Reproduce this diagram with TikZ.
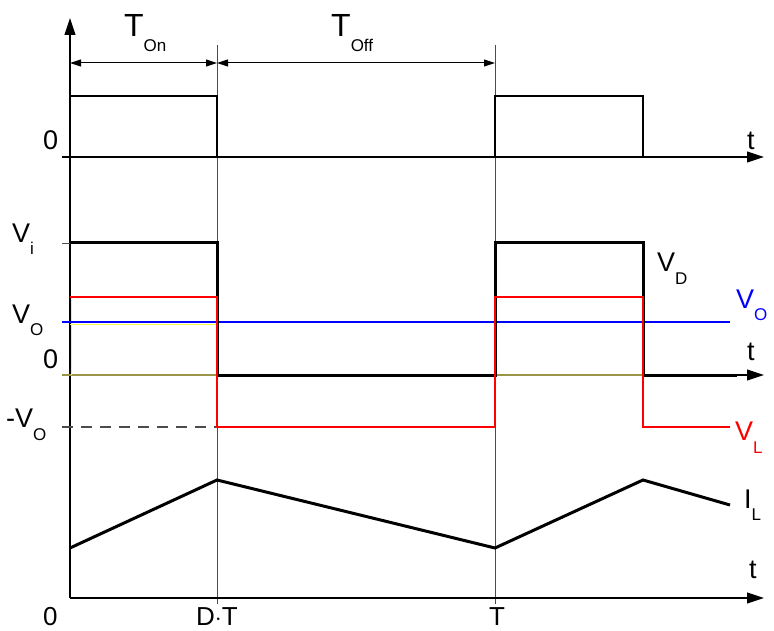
\documentclass[tikz,border=0pt]{standalone}
\usepackage{fontspec}
\setmainfont{Liberation Sans}
\usetikzlibrary{arrows.meta,positioning}

\newcommand{\idx}[2][13pt]{\raisebox{-#1}{\fontsize{17}{18}\selectfont #2}}

\begin{document}
\begin{tikzpicture}[x=1pt,y=-1pt]
 \tikzset{
  axis/.style={line width=1.1pt,-{Triangle[length=17pt,width=11pt]}},
  guide/.style={line width=0.9pt,black!70},
  wave/.style={line width=3pt,line join=miter},
  dim/.style={line width=1pt,{Triangle[length=11pt,width=7pt]}-{Triangle[length=11pt,width=7pt]}},
  lbl/.style={inner sep=0pt,anchor=base west,font=\fontsize{27}{30}\selectfont}
 }
 \useasboundingbox (0,0) rectangle (774,631);
 % axes and guides
 \coordinate (o) at (70,598);
 \coordinate (ytop) at (70,18);
 \coordinate (dt) at (217,63);
 \coordinate (tt) at (495,63);
 \coordinate (on) at (70,63);
 \draw[axis] (o) -- (ytop);
 \draw[guide] (217,45) -- (217,604);
 \draw[guide] (495,45) -- (495,604);
 \draw[axis] (62,157) -- (764,157);
 \draw[axis] (62,375) -- (764,375);
 \draw[line width=1.1pt,yellow!55!black] (62,375) -- (735,375);
 \draw[axis] (o) -- (764,598);
 \draw[guide] (62,243) -- (70,243);
 \draw[line width=1.4pt,black!70,dash pattern=on 11pt off 8pt] (62,427) -- (217,427);
 \draw[dim] (on) -- (dt);
 \draw[dim] (dt) -- (tt);
 % gate signal
 \draw[wave,line width=2.5pt] (70,96) -- (217,96) -- (217,157) -- (495,157) -- (495,96)
   -- (643,96) -- (643,157) -- (750,157);
 % voltages
 \draw[line width=0.8pt,yellow!70] (71.5,297) -- (71.5,375);
 \draw[line width=0.8pt,yellow!70] (70,324.5) -- (217,324.5);
 \draw[line width=2.4pt,blue] (62,322) -- (730,322);
 \draw[wave] (70,243) -- (217,243) -- (217,375) -- (495,375) -- (495,243)
   -- (643,243) -- (643,375) -- (737,375);
 \draw[wave,red,line width=2.6pt] (70,297) -- (217,297) -- (217,427) -- (495,427) -- (495,297)
   -- (643,297) -- (643,427) -- (730,427);
 % inductor current
 \draw[wave] (70,548) -- (217,480) -- (495,548) -- (643,480) -- (730,505);
 % labels
 \node[lbl,font=\fontsize{32}{34}\selectfont] (ton) at (124,37) {T\idx[15pt]{On}};
 \node[lbl,font=\fontsize{32}{34}\selectfont] (toff) at (331,37) {T\idx[15pt]{Off}};
 \node[lbl] (zero1) at (43,150) {0};
 \node[lbl] (t1) at (747,150) {t};
 \node[lbl] (vi) at (12,243) {V\idx[12pt]{i}};
 \node[lbl] (vo) at (12,323) {V\idx{O}};
 \node[lbl] (zero2) at (43,368) {0};
 \node[lbl] (mvo) at (6,427) {-V\idx{O}};
 \node[lbl] (vd) at (657,272) {V\idx{D}};
 \node[lbl,blue] (vol) at (736,308) {V\idx{O}};
 \node[lbl] (t2) at (747,360) {t};
 \node[lbl,red] (vl) at (735,440) {V\idx{L}};
 \node[lbl] (il) at (744,508) {I\idx[12pt]{L}};
 \node[lbl] (t3) at (749,578) {t};
 \node[lbl,font=\fontsize{26}{28}\selectfont] (zero3) at (43,625) {0};
 \node[lbl,anchor=base,font=\fontsize{26}{28}\selectfont] (dtl) at (217,625) {D$\cdot$T};
 \node[lbl,anchor=base,font=\fontsize{26}{28}\selectfont] (tl) at (497,625) {T};
\end{tikzpicture}
\end{document}
